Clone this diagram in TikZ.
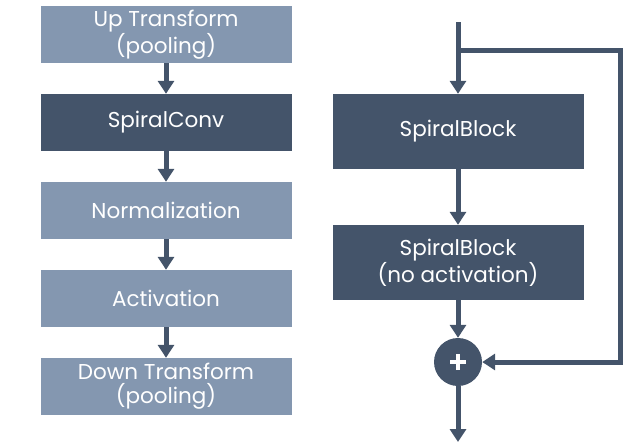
\documentclass[tikz,border=0pt]{standalone}
\usepackage{fontspec}
\setmainfont{Poppins}
\usetikzlibrary{arrows.meta,positioning}

\definecolor{lightslate}{HTML}{8497B0}
\definecolor{darkslate}{HTML}{44546A}

\begin{document}
\begin{tikzpicture}[%
    x=1pt, y=-1pt,
    >={Triangle[width=16pt,length=13pt]},
    node distance=88pt,
    on grid,
    box/.style={rectangle, minimum width=251pt, minimum height=57pt,
      text=white, font=\fontsize{21.5}{24}\selectfont, align=center, inner sep=0pt},
    lightbox/.style={box, fill=lightslate},
    darkbox/.style={box, fill=darkslate},
    flow/.style={->, draw=darkslate, line width=5pt},
    sum/.style={circle, fill=darkslate, minimum size=48pt, inner sep=0pt,
      path picture={
        \draw[white, line width=4.5pt]
          ([xshift=-8pt]path picture bounding box.center) -- ([xshift=8pt]path picture bounding box.center)
          ([yshift=-8pt]path picture bounding box.center) -- ([yshift=8pt]path picture bounding box.center);
      }}
  ]
    \useasboundingbox (0,0) rectangle (623,445);

    % left column
    \node[lightbox] (up) at (166,34.5) {Up Transform\\(pooling)};
    \node[darkbox]  (conv) [below=of up] {SpiralConv};
    \node[lightbox] (norm) [below=of conv] {Normalization};
    \node[lightbox] (act)  [below=of norm] {Activation};
    \node[lightbox] (down) [below=of act] {Down Transform\\(pooling)};

    \draw[flow] (up) -- (conv);
    \draw[flow] (conv) -- (norm);
    \draw[flow] (norm) -- (act);
    \draw[flow] (act) -- (down);

    % right column
    \node[darkbox, minimum height=75pt] (blockA) at (458,131.5) {SpiralBlock};
    \node[darkbox, minimum height=75pt] (blockB) [below=131pt of blockA] {SpiralBlock\\(no activation)};
    \node[sum] (add) [below=99.5pt of blockB] {};

    \coordinate (in) at (458,22);
    \coordinate (split) at (458,50);
    \coordinate (skipR) at (620,50);
    \coordinate (out) at (458,442);

    \draw[flow] (in) -- (blockA);
    \draw[flow] (blockA) -- (blockB);
    \draw[flow] (blockB) -- (add);
    \draw[flow] (split) -- (skipR) |- (add);
    \draw[flow] (add) -- (out);
\end{tikzpicture}
\end{document}
